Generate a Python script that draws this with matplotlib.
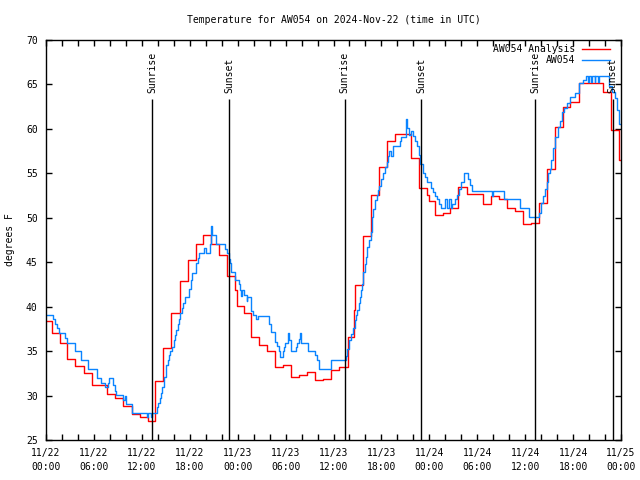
######################################################
## temperature plot for AW054                       ##
######################################################

import pandas as pd
import matplotlib
matplotlib.use("Agg")
import matplotlib.pyplot as plt
import matplotlib.dates as mdates

######################## data ################################
start = pd.Timestamp("2024-11-22 00:00")

# analysis (hourly), change times in hours after start
analysis_hours = [0, 0.72, 1.75, 2.67, 3.67, 4.75, 5.75, 7.67, 8.67, 9.67, 10.75, 11.75,
                  12.75, 13.6, 14.7, 15.7, 16.75, 17.83, 18.83, 19.67, 20.67, 21.67,
                  22.71, 23.71, 23.88, 24.79, 25.63, 26.72, 27.72, 28.63, 29.64, 30.64,
                  31.64, 32.72, 33.73, 34.73, 35.73, 36.73, 37.82, 38.56, 38.73, 39.65,
                  39.73, 40.73, 41.73, 42.74, 43.74, 45.66, 46.66, 47.74, 47.99, 48.66,
                  49.66, 50.6, 51.6, 52.67, 54.7, 55.69, 56.75, 57.69, 58.69, 59.69,
                  60.69, 61.7, 62.7, 63.7, 64.7, 65.62, 66.7, 69.71, 70.71, 71.71, 72]
analysis_temp = [38.4, 37.0, 35.9, 34.1, 33.3, 32.5, 31.2, 30.2, 29.7, 28.8, 27.9, 27.55,
                 27.1, 31.6, 35.4, 39.25, 42.85, 45.2, 47.1, 48.1, 47.1, 45.8,
                 43.45, 41.9, 40.1, 39.3, 36.55, 35.65, 35.0, 33.25, 33.4, 32.1,
                 32.3, 32.6, 31.7, 31.85, 32.85, 33.25, 36.6, 39.6, 42.4, 45.05,
                 47.9, 52.6, 55.7, 58.6, 59.4, 56.7, 53.3, 52.6, 51.9, 50.3,
                 50.5, 51.1, 53.5, 52.7, 51.55, 52.4, 52.1, 51.1, 50.75, 49.25,
                 49.4, 51.7, 55.45, 60.25, 62.5, 63.05, 65.2, 64.2, 59.9, 56.5, 56.5]

# station observations, change times in hours after start
obs_hours = [0, 0.92, 1.08, 1.42, 1.58, 2.42, 2.58, 3.67, 4.33, 5.25, 6.42, 6.92, 7.33,
             7.75, 7.92, 8.42, 8.67, 8.75, 9.67, 9.83, 10.0, 10.75, 12.67, 12.83, 13.17,
             13.33, 13.92, 14.08, 14.25, 14.42, 14.58, 14.83, 15.08, 15.25, 15.42, 15.58,
             15.75, 16.0, 16.17, 16.33, 16.5, 16.67, 16.75, 17.0, 17.17, 17.42, 17.92,
             18.17, 18.33, 18.75, 19.0, 19.17, 19.75, 20.0, 20.58, 20.67, 20.75, 21.25,
             22.46, 22.62, 22.87, 23.04, 23.21, 23.63, 24.13, 24.29, 24.4, 24.5, 24.79,
             25.13, 25.21, 25.63, 25.71, 25.88, 26.3, 26.55, 27.97, 28.13, 28.22, 28.72,
             28.88, 29.14, 29.3, 29.64, 29.8, 29.97, 30.3, 30.47, 30.64, 30.72, 31.3,
             31.47, 31.64, 31.81, 31.97, 32.81, 33.64, 33.89, 34.23, 35.73, 37.57, 37.73,
             37.9, 38.15, 38.4, 38.65, 38.81, 38.98, 39.15, 39.31, 39.48, 39.56, 39.73,
             39.9, 40.06, 40.23, 40.4, 40.65, 40.82, 40.98, 41.15, 41.4, 41.57, 41.73,
             41.9, 42.15, 42.4, 42.65, 42.82, 42.99, 43.15, 43.4, 44.32, 44.49, 45.07,
             45.15, 45.49, 45.74, 45.99, 46.24, 46.49, 46.66, 46.83, 47.16, 47.41, 47.66,
             48.16, 48.41, 48.66, 48.91, 49.16, 49.41, 49.92, 50.17, 50.42, 50.67, 50.84,
             51.17, 51.5, 51.75, 52.0, 52.34, 52.84, 53.09, 53.34, 55.85, 56.0, 57.35,
             59.36, 60.53, 61.78, 62.03, 62.2, 62.45, 62.7, 62.86, 63.11, 63.28, 63.53,
             63.78, 64.12, 64.37, 64.62, 64.87, 65.29, 65.62, 66.2, 66.7, 67.29, 67.62,
             67.9, 68.0, 68.3, 68.4, 68.7, 68.8, 69.1, 69.2, 70.46, 70.88, 71.21, 71.46,
             71.8, 72]
obs_temp = [39.05, 38.6, 38.0, 37.55, 37.0, 36.45, 35.95, 35.0, 34.0, 32.95, 31.95, 31.45, 31.0,
            31.45, 31.95, 31.2, 30.55, 30.05, 29.5, 30.0, 29.05, 28.0, 27.55, 28.0, 27.55,
            28.0, 28.7, 29.2, 29.7, 30.3, 31.0, 32.1, 33.4, 34.0, 34.55, 35.0,
            35.5, 36.2, 36.8, 37.4, 38.05, 38.6, 39.25, 39.9, 40.45, 41.05, 41.95,
            43.0, 43.8, 44.95, 45.5, 46.0, 46.6, 46.0, 47.05, 49.1, 48.05, 47.05,
            46.45, 46.0, 45.4, 44.9, 43.95, 43.0, 42.5, 41.9, 41.2, 41.9, 41.3,
            40.6, 41.05, 40.6, 39.55, 39.05, 38.6, 39.0, 38.05, 37.55, 37.1, 36.05,
            35.6, 35.0, 34.3, 35.0, 35.5, 35.95, 37.0, 36.3, 35.5, 35.0, 35.5,
            35.95, 36.4, 37.0, 35.95, 35.0, 34.55, 34.0, 33.0, 34.0, 34.4, 35.2,
            36.25, 36.9, 37.56, 38.5, 39.06, 39.6, 40.4, 41.1, 41.9, 42.6, 43.9,
            44.8, 45.6, 46.75, 47.5, 48.4, 50.05, 51.0, 52.0, 52.6, 53.1, 53.6,
            54.4, 55.0, 55.7, 56.3, 56.9, 57.55, 57.0, 58.1, 58.6, 59.1, 61.1,
            60.1, 59.3, 59.8, 59.2, 58.6, 58.1, 57.1, 56.1, 55.0, 54.6, 54.0,
            53.4, 52.9, 52.5, 52.1, 51.55, 51.06, 52.1, 51.06, 52.1, 51.06, 51.55,
            52.1, 52.6, 53.2, 54.06, 55.0, 54.4, 53.7, 53.05, 52.4, 53.05, 52.08,
            51.06, 50.05, 50.5, 51.7, 52.4, 53.2, 54.06, 55.0, 55.45, 56.5, 57.9,
            59.05, 60.25, 60.9, 61.94, 62.3, 62.95, 63.6, 64.07, 65.2, 65.5, 66.0,
            65.3, 66.0, 65.3, 66.0, 65.3, 66.0, 65.3, 66.0, 64.8, 64.2, 63.44, 62.1,
            60.5, 60.5]

sunrise_hours = [13.3, 37.4, 61.27]
sunset_hours = [22.95, 47.0, 70.96]

########################### plot ###################################
def to_time(hours):
    return start + pd.to_timedelta(hours, unit="h")

plt.rcParams['font.family'] = ['DejaVu Sans Mono']
fs = 7

fig = plt.figure(figsize=(6.4, 4.8), dpi=100)
ax = fig.add_axes([46/640, 40/480, 575/640, 400/480])

ax.plot(to_time(analysis_hours), analysis_temp, drawstyle="steps-post",
        color="#ff0000", lw=1.0, label="AW054 Analysis")
ax.plot(to_time(obs_hours), obs_temp, drawstyle="steps-post",
        color="#0a84ff", lw=1.0, label="AW054")

# sunrise / sunset markers
for h in sunrise_hours:
    ax.vlines(to_time(h), 25, 63.4, color="black", lw=1.0)
    ax.text(to_time(h), 64.0, "Sunrise", rotation=90, ha="center", va="bottom", fontsize=fs)
for h in sunset_hours:
    ax.vlines(to_time(h), 25, 63.4, color="black", lw=1.0)
    ax.text(to_time(h), 64.0, "Sunset", rotation=90, ha="center", va="bottom", fontsize=fs)

ax.set_xlim(to_time(0), to_time(72))
ax.set_ylim(25, 70)
ax.set_yticks(range(25, 71, 5))

ax.xaxis.set_major_locator(mdates.HourLocator(byhour=range(0, 24, 6)))
ax.xaxis.set_minor_locator(mdates.HourLocator(byhour=range(0, 24, 2)))
ax.xaxis.set_major_formatter(mdates.DateFormatter("%m/%d\n%H:%M"))

ax.tick_params(which="both", direction="in", top=True, right=True, labelsize=fs, width=1.0)
ax.tick_params(which="major", length=4, pad=6)
ax.tick_params(which="minor", length=4)
for lab in ax.get_xticklabels():
    lab.set_linespacing(1.45)

for sp in ax.spines.values():
    sp.set_linewidth(1.0)

ax.set_ylabel("degrees F", fontsize=fs, labelpad=8)
ax.set_title("Temperature for AW054 on 2024-Nov-22 (time in UTC)", fontsize=fs, pad=12)

ax.legend(loc="upper right", bbox_to_anchor=(1 - 11/575, 1 - 4/400), frameon=False,
          markerfirst=False, fontsize=fs, handlelength=2.9, handletextpad=0.7,
          labelspacing=0.15, borderaxespad=0, borderpad=0)

fig.savefig("out.png", dpi=100)
